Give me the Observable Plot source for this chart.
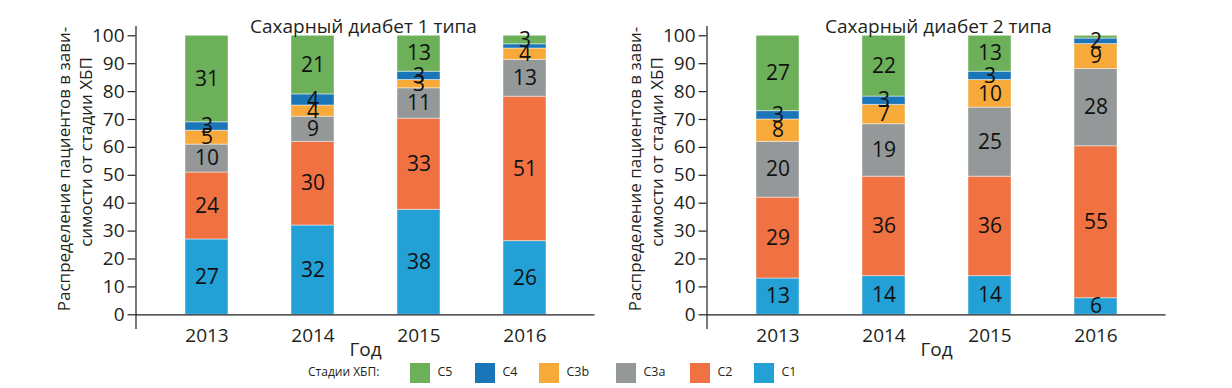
<!DOCTYPE html>
<html><head><meta charset="utf-8">
<script src="https://cdn.jsdelivr.net/npm/d3@7"></script>
<script src="https://cdn.jsdelivr.net/npm/@observablehq/plot@0.6"></script>
<style>
body{margin:0;background:#fff;font-family:"Open Sans",sans-serif;color:#231f20;}
#wrap{position:relative;width:1232px;height:388px;overflow:hidden;background:#fff;}
.panel{position:absolute;top:0;}
.leg{position:absolute;font-family:"Open Sans",sans-serif;color:#231f20;white-space:nowrap;}
.sw{position:absolute;width:20px;height:20px;}
</style></head><body><div id="wrap"></div>
<script>
// Categories
const years = ["2013", "2014", "2015", "2016"];
const stages = ["C1", "C2", "C3a", "C3b", "C4", "C5"];
const legendOrder = ["C5", "C4", "C3b", "C3a", "C2", "C1"];
const stageColors = ["#23a0d6", "#f07142", "#949899", "#f7a93a", "#1b75b9", "#6db05a"];
const legendTitle = "Стадии ХБП:";
const yTitle1 = "Распределение пациентов в зави-";
const yTitle2 = "симости от стадии ХБП";
const xTitle = "Год";
const title1 = "Сахарный диабет 1 типа";
const title2 = "Сахарный диабет 2 типа";
const yTicks = [0, 10, 20, 30, 40, 50, 60, 70, 80, 90, 100];

// Сахарный диабет 1 типа (% by year 2013..2016)
const t1_C1  = [27, 32, 38, 26];
const t1_C2  = [24, 30, 33, 51];
const t1_C3a = [10, 9, 11, 13];
const t1_C3b = [5, 4, 3, 4];
const t1_C4  = [3, 4, 3, 1.5];
const t1_C5  = [31, 21, 13, 3];

// Сахарный диабет 2 типа
const t2_C1  = [13, 14, 14, 6];
const t2_C2  = [29, 36, 36, 55];
const t2_C3a = [20, 19, 25, 28];
const t2_C3b = [8, 7, 10, 9];
const t2_C4  = [3, 3, 3, 2];
const t2_C5  = [27, 22, 13, 1];

const series1 = [t1_C1, t1_C2, t1_C3a, t1_C3b, t1_C4, t1_C5];
const series2 = [t2_C1, t2_C2, t2_C3a, t2_C3b, t2_C4, t2_C5];

function panel(series, title, titleDx) {
  const data = years.flatMap((yr, i) => stages.map((s, j) => ({year: yr, stage: s, value: series[j][i]})));
  return Plot.plot({
    width: 610, height: 362,
    marginLeft: 135.5, marginRight: 15.5, marginTop: 26, marginBottom: 34,
    x: {domain: years, paddingInner: 0.596, paddingOuter: 0.456, label: null},
    y: {domain: [-0.0491, 1.0333], label: null},
    color: {domain: stages, range: stageColors},
    style: {fontFamily: "Open Sans", color: "#231f20", background: "transparent", overflow: "visible"},
    marks: [
      Plot.barY(data, Plot.stackY({offset: "normalize", x: "year", y: "value", fill: "stage",
        stroke: "#ffffff", strokeOpacity: 0.45, strokeWidth: 1})),
      Plot.ruleY([0], {stroke: "#231f20", strokeWidth: 1.2}),
      Plot.frame({anchor: "left", stroke: "#231f20", strokeWidth: 1.2}),
      Plot.axisY({ticks: yTicks.map(d => d / 100), tickFormat: d => Math.round(d * 100),
        tickSize: 8, tickPadding: 3.5, fontSize: 19, label: null, stroke: "#231f20", strokeWidth: 1.2}),
      Plot.axisX({tickSize: 0, tickPadding: 0, fontSize: 19, label: null}),
      Plot.text(data, Plot.stackY({offset: "normalize", x: "year", y: "value",
        text: d => d.value >= 2 ? String(d.value) : null, fontSize: 21, fill: "#111"})),
      Plot.text([title], {frameAnchor: "top", lineAnchor: "middle", dx: titleDx, fontSize: 19, fill: "#231f20"}),
      Plot.text([xTitle], {frameAnchor: "bottom", lineAnchor: "middle", dy: 21, fontSize: 19, fill: "#231f20"}),
      Plot.text([yTitle1], {frameAnchor: "left", rotate: -90, textAnchor: "middle", lineAnchor: "middle", dx: -71.5, dy: -8.5, fontSize: 17, fill: "#231f20"}),
      Plot.text([yTitle2], {frameAnchor: "left", rotate: -90, textAnchor: "middle", lineAnchor: "middle", dx: -49.5, dy: -25.5, fontSize: 17, fill: "#231f20"})
    ]
  });
}

const wrap = document.getElementById("wrap");
const p1 = panel(series1, title1, -2);
p1.classList.add("panel"); p1.style.left = "0px";
wrap.appendChild(p1);
const p2 = panel(series2, title2, 2);
p2.classList.add("panel"); p2.style.left = "571px";
wrap.appendChild(p2);

// Legend
const lt = document.createElement("div");
lt.className = "leg"; lt.textContent = legendTitle;
lt.style.left = "308px"; lt.style.top = "363px"; lt.style.fontSize = "12px"; lt.style.lineHeight = "18px";
wrap.appendChild(lt);
const swX = [410, 475, 539, 616, 690, 754];
legendOrder.forEach((s, i) => {
  const sw = document.createElement("div");
  sw.className = "sw";
  sw.style.left = swX[i] + "px"; sw.style.top = "363px";
  sw.style.background = stageColors[stages.indexOf(s)];
  wrap.appendChild(sw);
  const lb = document.createElement("div");
  lb.className = "leg"; lb.textContent = s;
  lb.style.left = (swX[i] + 27.5) + "px"; lb.style.top = "363px";
  lb.style.fontSize = "12.5px"; lb.style.lineHeight = "18px";
  wrap.appendChild(lb);
});
</script></body></html>
